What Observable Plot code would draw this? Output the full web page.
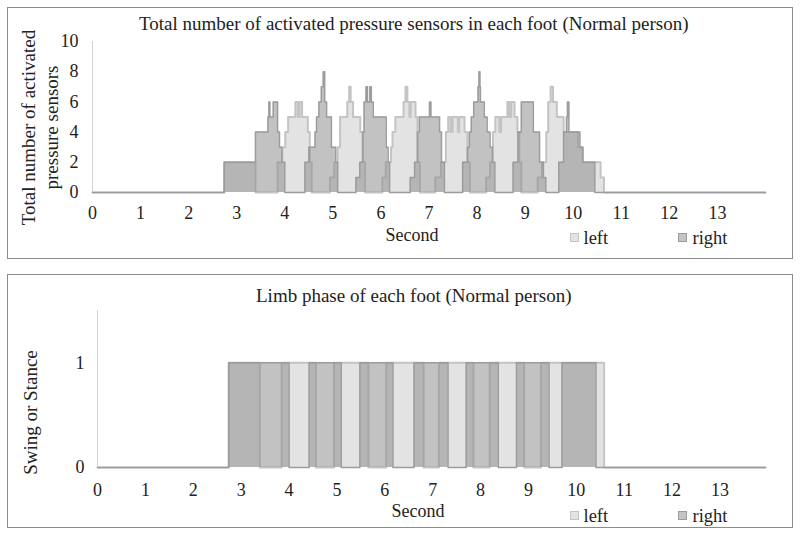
<!DOCTYPE html>
<html><head><meta charset="utf-8">
<script src="https://cdn.jsdelivr.net/npm/d3@7"></script>
<script src="https://cdn.jsdelivr.net/npm/@observablehq/plot@0.6"></script>
<style>
body{margin:0;background:#fff;}
#root{position:relative;width:800px;height:533px;font-family:"Liberation Serif","Times New Roman",serif;color:#222;overflow:hidden;}
.box{position:absolute;border:1px solid #8c8c8c;box-sizing:border-box;}
.t{position:absolute;white-space:nowrap;line-height:1;}
.sq{position:absolute;width:9px;height:9px;box-sizing:border-box;}
.plot{position:absolute;left:0;}
</style></head><body><div id="root"></div>
<script>
// ---- data: top panel (activated sensor count, step values) ----
const leftSensorTime  = [2.74,3.39, 3.85,3.95,4.01,4.07,4.22,4.27,4.31,4.36,4.48,4.52,4.56,
  4.94,5.03,5.10,5.15,5.30,5.34,5.37,5.42,5.57,5.62,5.67,
  6.03,6.10,6.21,6.24,6.30,6.47,6.51,6.55,6.59,6.62,6.72,6.76,6.81,
  7.13,7.25,7.35,7.40,7.45,7.49,7.60,7.63,7.74,7.80,7.85,
  8.19,8.27,8.33,8.38,8.46,8.50,8.63,8.67,8.71,8.78,8.84,8.88,8.92,
  9.26,9.35,9.44,9.48,9.53,9.58,9.66,9.80,10.10,10.20,10.57,10.64];
const leftSensorCount = [2,0, 2,3,4,5,6,5,6,5,4,2,0,
  1,2,3,5,6,7,6,5,4,2,0,
  1,2,3,4,5,6,7,6,5,6,5,2,0,
  1,2,4,5,4,5,4,5,4,2,0,
  1,2,4,5,4,5,6,5,6,5,4,2,0,
  1,2,4,6,7,6,5,4,3,2,1,0];
const rightSensorTime  = [2.74,3.39,3.65,3.67,3.69,3.76,3.85,3.89,3.94,4.00,
  4.42,4.50,4.63,4.66,4.71,4.76,4.80,4.83,4.87,4.97,5.06,5.10,
  5.48,5.56,5.62,5.65,5.69,5.72,5.77,5.80,5.84,6.11,6.15,6.18,
  6.61,6.70,6.76,6.80,7.01,7.04,7.22,7.26,7.32,
  7.70,7.80,7.84,7.88,7.93,8.02,8.04,8.06,8.07,8.15,8.21,8.27,8.32,8.37,
  8.75,8.85,8.92,9.17,9.30,9.38,9.43,
  9.70,9.80,9.86,9.88,9.91,10.14,10.20,10.45];
const rightSensorCount = [2,4,5,6,5,6,4,3,2,0,
  2,3,4,5,6,7,8,6,5,3,2,0,
  1,2,4,6,7,6,7,6,5,3,2,0,
  1,2,4,5,6,5,4,2,0,
  2,3,4,5,6,7,8,7,6,5,4,3,2,0,
  2,4,6,4,2,1,0,
  2,4,5,6,4,3,2,0];
// ---- data: bottom panel (stance intervals, seconds) ----
const leftStanceStart  = [2.74, 3.845, 4.94, 6.03, 7.13, 8.19, 9.26];
const leftStanceEnd    = [3.39, 4.56, 5.66, 6.81, 7.85, 8.91, 10.58];
const rightStanceStart = [2.74, 4.42, 5.48, 6.61, 7.70, 8.75, 9.70];
const rightStanceEnd   = [4.00, 5.09, 6.17, 7.32, 8.37, 9.43, 10.41];
// ---- tick labels ----
const xTicks = [0,1,2,3,4,5,6,7,8,9,10,11,12,13];
const topYTicks = [0,2,4,6,8,10];
const bottomYTicks = [0,1];
const seriesNames = ["left","right"];

// ---- build tables ----
function stepRows(ts, vs, end){
  const r=[{t:0,v:0}];
  ts.forEach((t,i)=>r.push({t,v:vs[i]}));
  r.push({t:end,v:0});
  return r;
}
function stanceRows(s, e, end){
  const r=[{t:0,v:0}];
  s.forEach((t,i)=>{r.push({t,v:1}); r.push({t:e[i],v:0});});
  r.push({t:end,v:0});
  return r;
}
const leftTop = stepRows(leftSensorTime, leftSensorCount, 14);
const rightTop = stepRows(rightSensorTime, rightSensorCount, 14);
const leftBot = stanceRows(leftStanceStart, leftStanceEnd, 13.95);
const rightBot = stanceRows(rightStanceStart, rightStanceEnd, 13.95);

const C = {leftFill:"#e3e3e3", leftStroke:"#c4c4c4", rightFill:"#8f8f8f", rightOp:0.54, rightStroke:"#9c9c9c"};
const font = {fontFamily:"'Liberation Serif','Times New Roman',serif", fontSize:"18px", color:"#222", background:"transparent", overflow:"visible"};

function layers(L, R){
  return [
    Plot.areaY(L, {x:"t", y:"v", curve:"step-after", fill:C.leftFill}),
    Plot.lineY(L, {x:"t", y:"v", curve:"step-after", stroke:C.leftStroke, strokeWidth:2}),
    Plot.areaY(R, {x:"t", y:"v", curve:"step-after", fill:C.rightFill, fillOpacity:C.rightOp}),
    Plot.lineY(R, {x:"t", y:"v", curve:"step-after", stroke:C.rightStroke, strokeWidth:1.5}),
  ];
}

const topPlot = Plot.plot({
  width:800, height:225, marginLeft:92, marginRight:35, marginTop:41, marginBottom:33,
  x:{domain:[0,14], ticks:xTicks, tickSize:0, tickPadding:14, tickFormat:"d", label:null},
  y:{domain:[0,10], ticks:topYTicks, tickSize:0, tickPadding:14, tickFormat:"d", label:null},
  style:font,
  marks:[
    Plot.ruleX([0], {y1:0, y2:10, stroke:"#d4d4d4"}),
    ...layers(leftTop, rightTop)
  ]
});
const botPlot = Plot.plot({
  width:800, height:235, marginLeft:97, marginRight:35, marginTop:40, marginBottom:38,
  x:{domain:[0,13.95], ticks:xTicks, tickSize:0, tickPadding:16, tickFormat:"d", label:null},
  y:{domain:[0,1.5], ticks:bottomYTicks, tickSize:0, tickPadding:13, tickFormat:"d", label:null},
  style:font,
  marks:[
    Plot.ruleX([0], {y1:0, y2:1.5, stroke:"#d4d4d4"}),
    ...layers(leftBot, rightBot)
  ]
});

const root = document.getElementById("root");
function add(html){ root.insertAdjacentHTML("beforeend", html); }
add('<div class="box" style="left:7px;top:7px;width:786px;height:252px"></div>');
add('<div class="box" style="left:7px;top:274px;width:786px;height:254px"></div>');
const w1=document.createElement("div"); w1.className="plot"; w1.style.top="0px"; w1.appendChild(topPlot); root.appendChild(w1);
const w2=document.createElement("div"); w2.className="plot"; w2.style.top="270px"; w2.appendChild(botPlot); root.appendChild(w2);

function text(str, cx, cy, size, rot){
  const d=document.createElement("div"); d.className="t"; d.textContent=str;
  d.style.fontSize=size+"px"; root.appendChild(d);
  const w=d.offsetWidth, h=d.offsetHeight;
  d.style.left=(cx-w/2)+"px"; d.style.top=(cy-h/2)+"px";
  if(rot) d.style.transform="rotate(-90deg)";
}
text("Total number of activated pressure sensors in each foot (Normal person)", 414, 23, 19);
text("Total number of activated", 28, 127, 19, true);
text("pressure sensors", 51, 127, 19, true);
text("Second", 412, 235, 18);
text("Limb phase of each foot (Normal person)", 414, 295, 19);
text("Swing or Stance", 30, 412, 19, true);
text("Second", 418, 511, 18);

function legend(y){
  add(`<div class="sq" style="left:570px;top:${y-5}px;background:${C.leftFill};border:1.5px solid ${C.leftStroke}"></div>`);
  add(`<div class="sq" style="left:678px;top:${y-5}px;background:#c4c4c4;border:1.5px solid ${C.rightStroke}"></div>`);
  text(seriesNames[0], 596, y, 18.5);
  text(seriesNames[1], 710, y, 18.5);
}
legend(238);
legend(516);
</script></body></html>
